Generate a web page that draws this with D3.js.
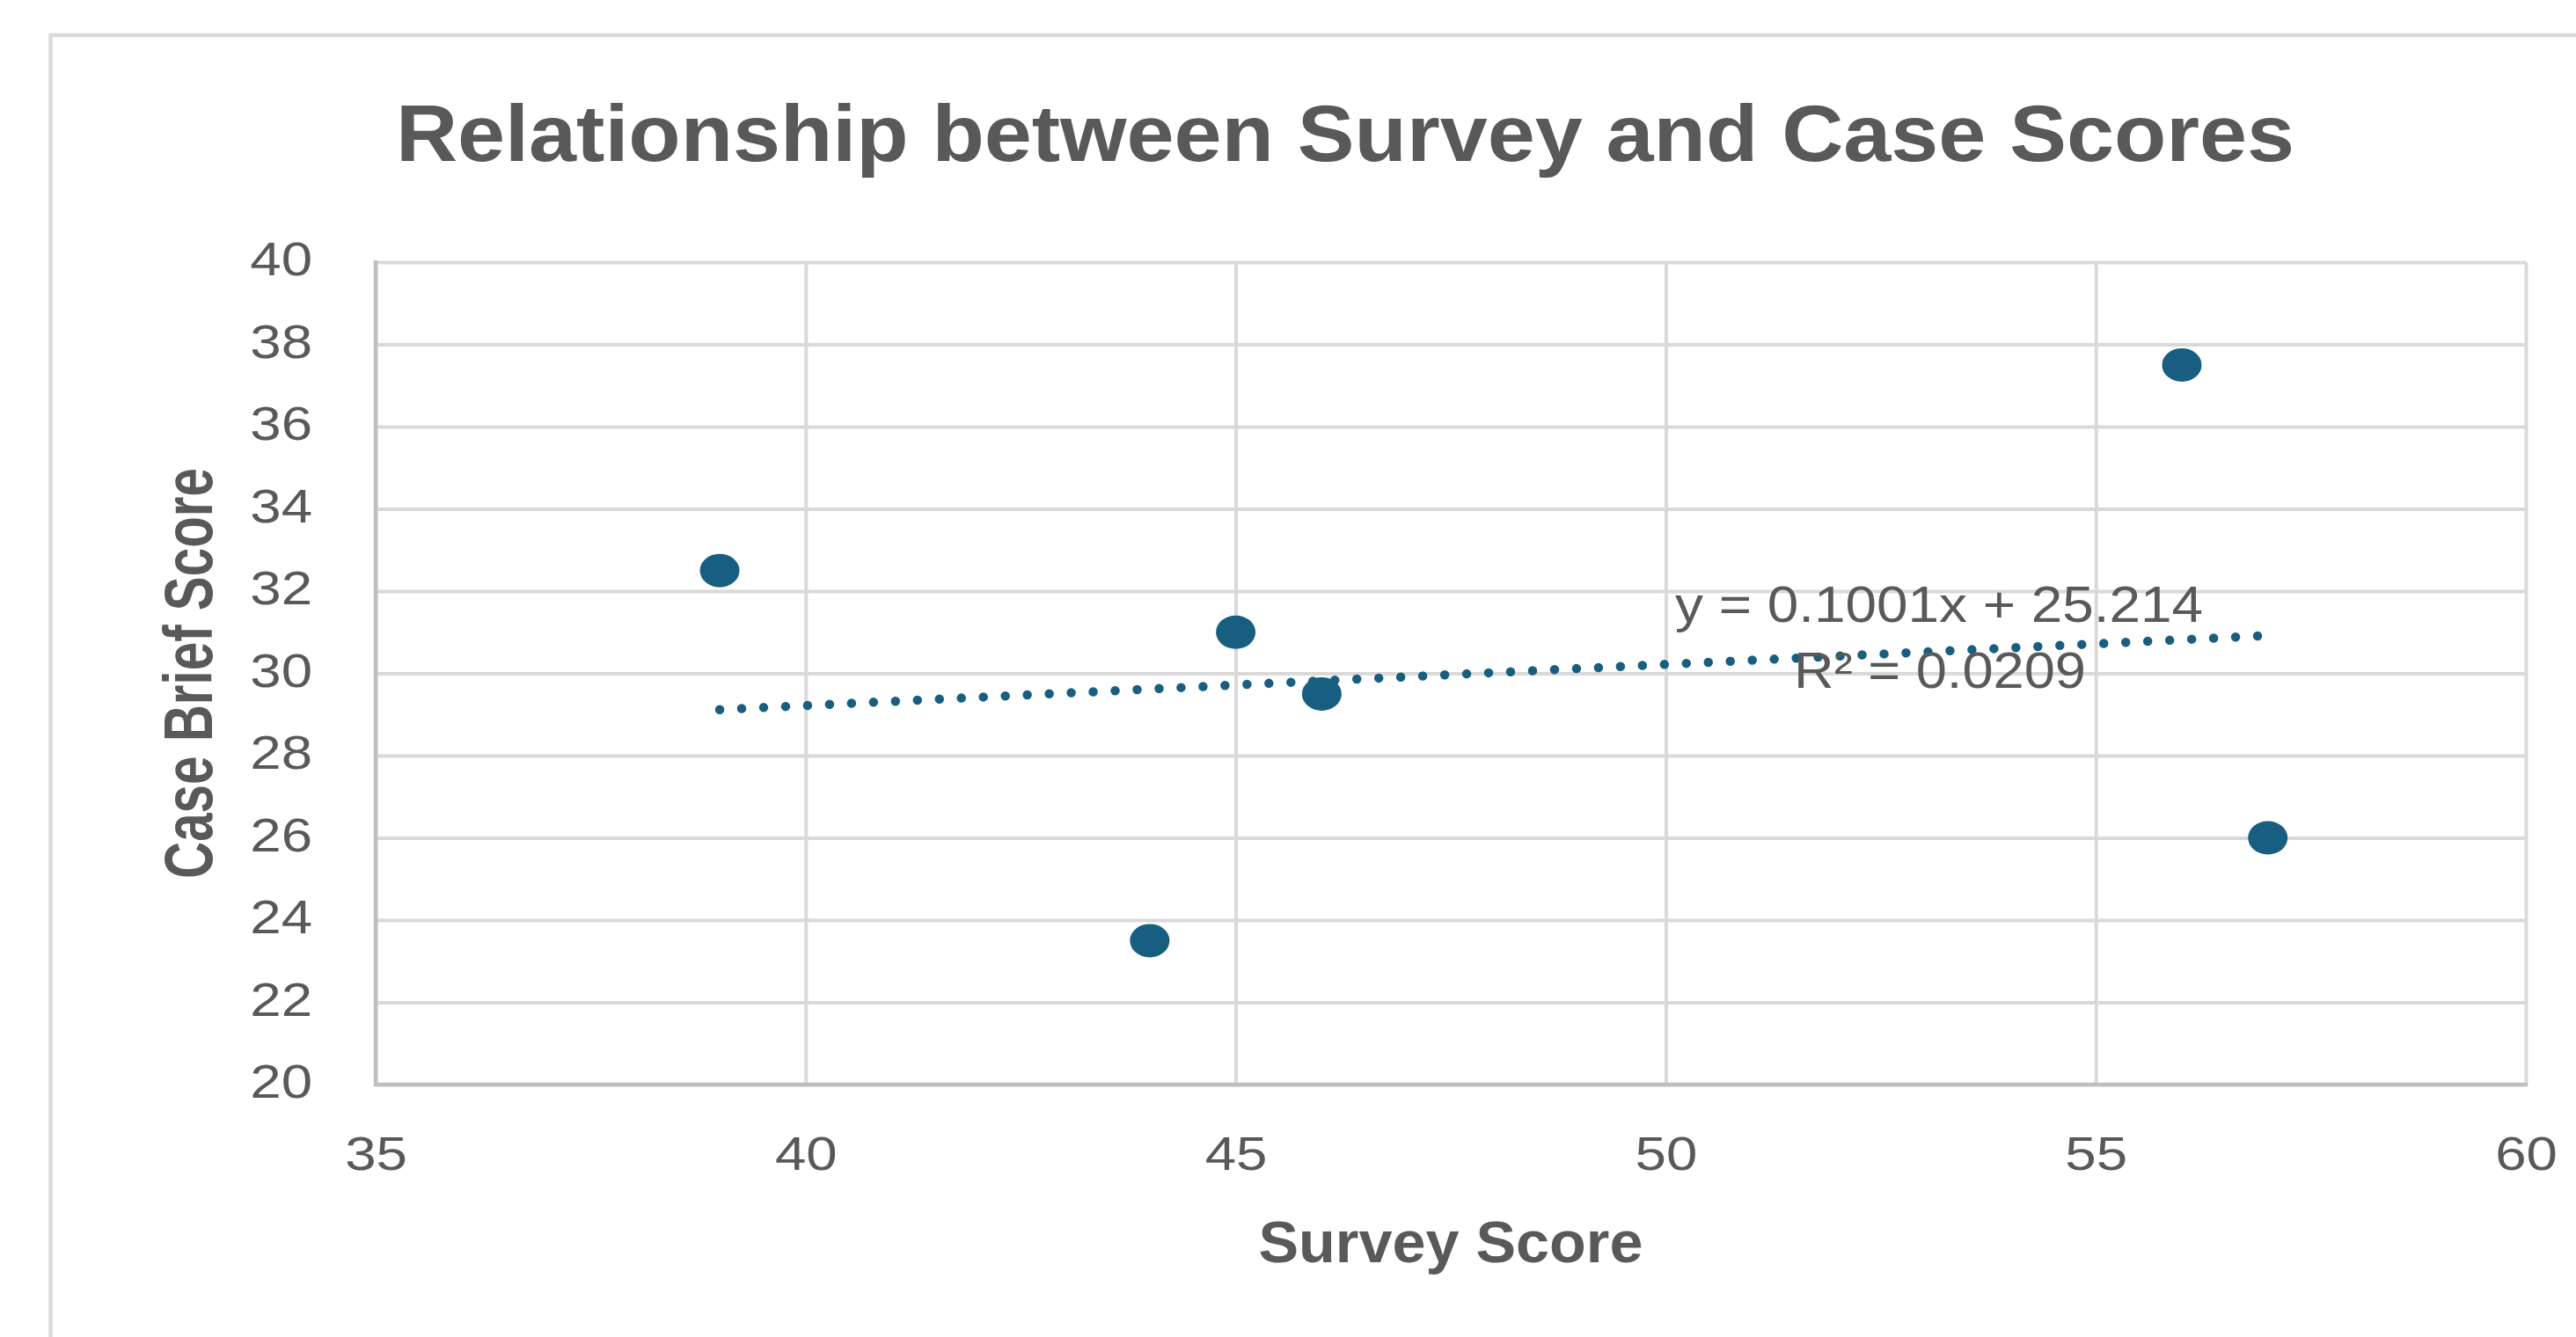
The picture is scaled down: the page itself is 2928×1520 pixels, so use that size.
<!DOCTYPE html>
<html>
<head>
<meta charset="utf-8">
<script src="https://cdn.jsdelivr.net/npm/d3@7"></script>
<style>
  html, body { margin: 0; padding: 0; background: #ffffff; overflow: hidden; }
  svg { display: block; }
</style>
</head>
<body>
<svg id="chart" width="2928" height="1520"></svg>
<script>
// Survey score vs. case brief score for each participant
const surveyScores = [39, 44, 45, 46, 56, 57];
const caseScores   = [32.5, 23.5, 31, 29.5, 37.5, 26];

// Axis ticks
const xTicks = [35, 40, 45, 50, 55, 60];
const yTicks = [20, 22, 24, 26, 28, 30, 32, 34, 36, 38, 40];

// Linear trendline (least squares) as reported on the chart
const trendSlope = 0.1001;
const trendIntercept = 25.214;
const trendR2 = 0.0209;

const chartTitle = "Relationship between Survey and Case Scores";
const xTitle = "Survey Score";
const yTitle = "Case Brief Score";

// ---- layout -------------------------------------------------------------
const W = 2928, H = 1520;
const plot = { left: 427, right: 2871, top: 298, bottom: 1233 };
const textColor = "#595959";
const gridColor = "#d9d9d9";
const axisColor = "#bfbfbf";
const markColor = "#185e80";
const sans = "'Liberation Sans', Arial, sans-serif";
const narrow = "'Liberation Sans Narrow', 'Liberation Sans', Arial, sans-serif";
const stretch = 1.2;   // labels are drawn slightly wide

const svg = d3.select("#chart");

const x = d3.scaleLinear().domain([35, 60]).range([plot.left, plot.right]);
const y = d3.scaleLinear().domain([20, 40]).range([plot.bottom, plot.top]);

// Chart frame
svg.append("path")
  .attr("d", `M57.5,${H} V40 H${W}`)
  .attr("fill", "none")
  .attr("stroke", gridColor)
  .attr("stroke-width", 4.5);

// Title
svg.append("text")
  .attr("x", 1529)
  .attr("y", 183)
  .attr("text-anchor", "middle")
  .attr("font-family", narrow)
  .attr("font-weight", "bold")
  .attr("font-size", 90)
  .attr("fill", textColor)
  .attr("textLength", 2158)
  .attr("lengthAdjust", "spacingAndGlyphs")
  .text(chartTitle);

// Gridlines
const gridX = svg.append("g")
  .attr("transform", `translate(0,${plot.bottom})`)
  .call(d3.axisBottom(x).tickValues(xTicks).tickSize(-(plot.bottom - plot.top)).tickFormat(""));
const gridY = svg.append("g")
  .attr("transform", `translate(${plot.left},0)`)
  .call(d3.axisLeft(y).tickValues(yTicks).tickSize(-(plot.right - plot.left)).tickFormat(""));
[gridX, gridY].forEach(g => {
  g.select(".domain").remove();
  g.selectAll(".tick line").attr("stroke", gridColor).attr("stroke-width", 4);
});

// Axis lines
svg.append("line")
  .attr("x1", plot.left).attr("x2", plot.left)
  .attr("y1", plot.top - 2).attr("y2", plot.bottom + 2)
  .attr("stroke", axisColor).attr("stroke-width", 4.5);
svg.append("line")
  .attr("x1", plot.left - 2).attr("x2", plot.right + 2)
  .attr("y1", plot.bottom).attr("y2", plot.bottom)
  .attr("stroke", axisColor).attr("stroke-width", 4.5);

// Tick labels
const yAxis = svg.append("g")
  .attr("transform", `translate(${plot.left},0)`)
  .call(d3.axisLeft(y).tickValues(yTicks).tickSize(0).tickPadding(0));
yAxis.select(".domain").remove();
yAxis.selectAll(".tick text")
  .attr("x", 0)
  .attr("dy", "0.32em")
  .attr("transform", `translate(-72,-2) scale(${stretch},1)`)
  .attr("text-anchor", "end")
  .attr("font-family", sans)
  .attr("font-size", 53)
  .attr("fill", textColor);

const xAxis = svg.append("g")
  .attr("transform", `translate(0,${plot.bottom})`)
  .call(d3.axisBottom(x).tickValues(xTicks).tickSize(0).tickPadding(0));
xAxis.select(".domain").remove();
xAxis.selectAll(".tick text")
  .attr("y", 0)
  .attr("dy", "0.71em")
  .attr("transform", `translate(0,59) scale(${stretch},1)`)
  .attr("text-anchor", "middle")
  .attr("font-family", sans)
  .attr("font-size", 53)
  .attr("fill", textColor);

// Axis titles
svg.append("text")
  .attr("x", (plot.left + plot.right) / 2)
  .attr("y", 1435)
  .attr("text-anchor", "middle")
  .attr("font-family", narrow)
  .attr("font-weight", "bold")
  .attr("font-size", 67)
  .attr("fill", textColor)
  .attr("textLength", 437)
  .attr("lengthAdjust", "spacingAndGlyphs")
  .text(xTitle);

svg.append("text")
  .attr("transform", `translate(241,${(plot.top + plot.bottom) / 2}) rotate(-90) scale(1,${stretch})`)
  .attr("text-anchor", "middle")
  .attr("font-family", narrow)
  .attr("font-weight", "bold")
  .attr("font-size", 65)
  .attr("fill", textColor)
  .attr("textLength", 467)
  .attr("lengthAdjust", "spacingAndGlyphs")
  .text(yTitle);

// Trendline (dotted)
const xExtent = d3.extent(surveyScores);
const trendPts = xExtent.map(v => [v, trendSlope * v + trendIntercept]);
svg.append("path")
  .datum(trendPts)
  .attr("d", d3.line().x(d => x(d[0])).y(d => y(d[1])))
  .attr("fill", "none")
  .attr("stroke", markColor)
  .attr("stroke-width", 10.5)
  .attr("stroke-linecap", "round")
  .attr("stroke-dasharray", "0 25");

// Points
const points = surveyScores.map((s, i) => ({ s, c: caseScores[i] }));
svg.append("g")
  .selectAll("ellipse")
  .data(points)
  .join("ellipse")
  .attr("cx", d => x(d.s))
  .attr("cy", d => y(d.c))
  .attr("rx", 22.5)
  .attr("ry", 19)
  .attr("fill", markColor);

// Trendline equation
const eq = svg.append("g")
  .attr("font-family", sans)
  .attr("font-size", 57)
  .attr("fill", textColor)
  .attr("text-anchor", "middle");
eq.append("text")
  .attr("x", 2204)
  .attr("y", 707)
  .attr("textLength", 600)
  .attr("lengthAdjust", "spacingAndGlyphs")
  .text(`y = ${trendSlope}x + ${trendIntercept}`);
eq.append("text")
  .attr("x", 2205)
  .attr("y", 782)
  .attr("textLength", 332)
  .attr("lengthAdjust", "spacingAndGlyphs")
  .text(`R\u00B2 = ${trendR2}`);
</script>
</body>
</html>
